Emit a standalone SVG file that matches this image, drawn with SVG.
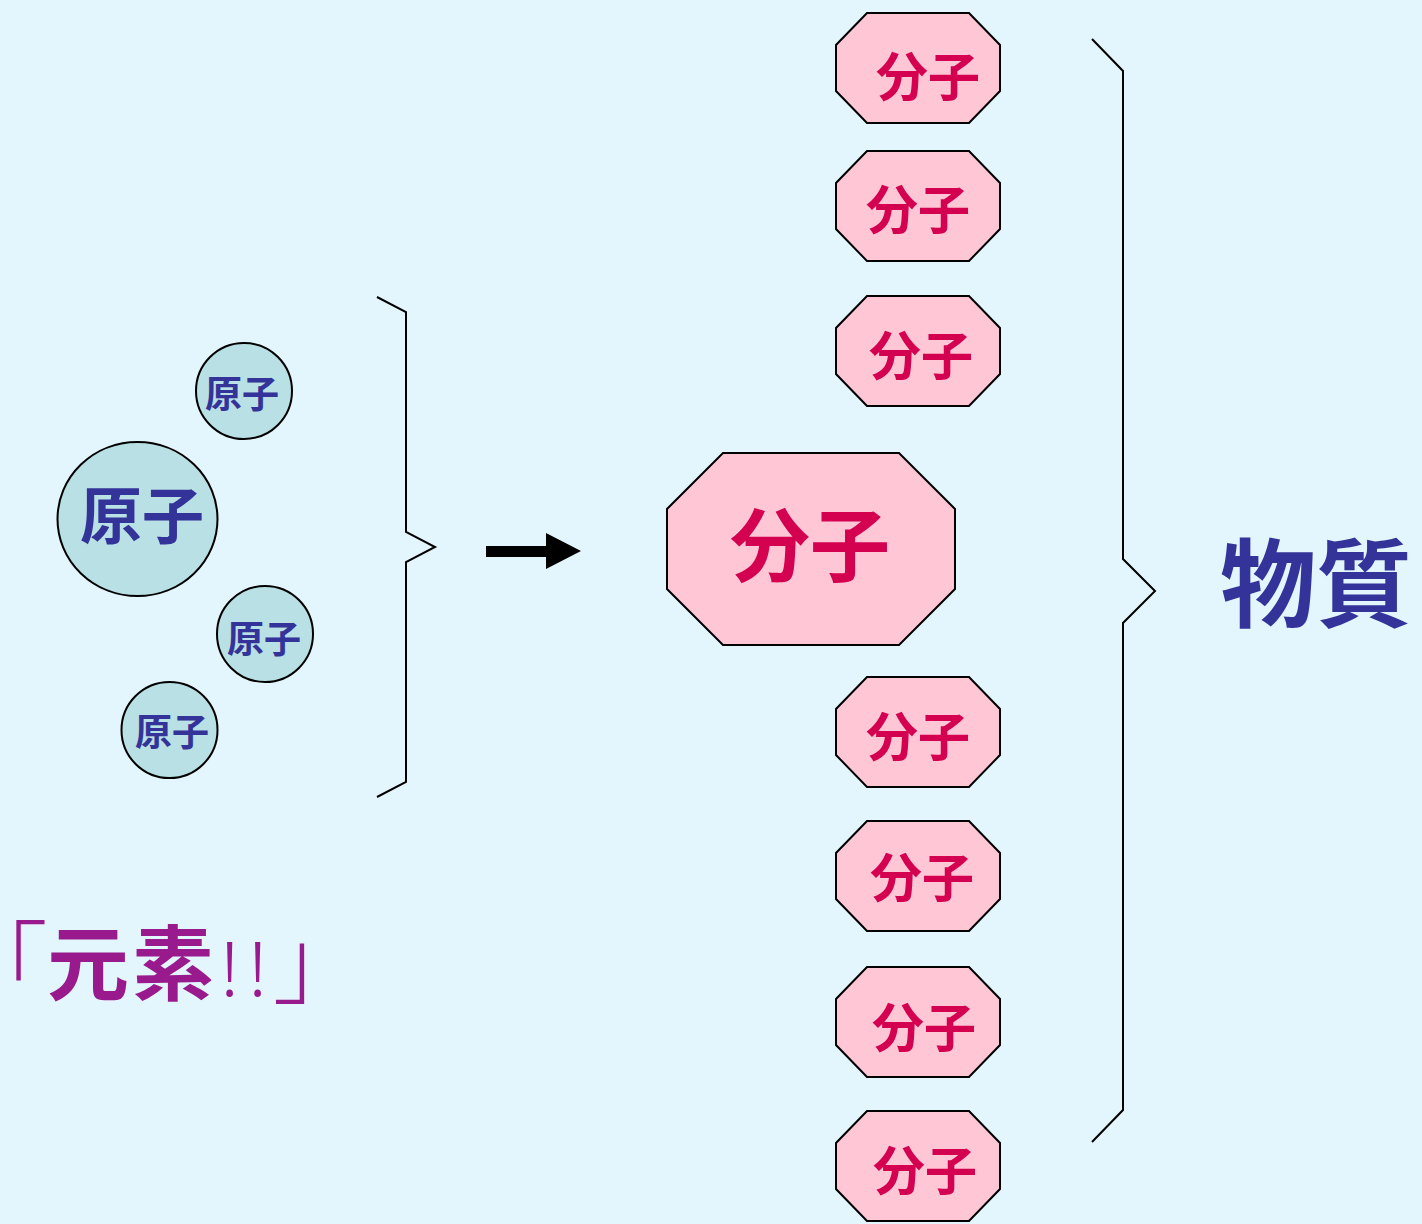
<svg xmlns="http://www.w3.org/2000/svg" width="1422" height="1224" viewBox="0 0 1422 1224">
<defs>
<style>
.bg{fill:#E3F5FD}
.oct{fill:#FFC7D5;stroke:#000;stroke-width:2}
.atom{fill:#B9E0E4;stroke:#000;stroke-width:2}
.brace{fill:none;stroke:#000;stroke-width:2;stroke-linejoin:miter}
.t{font-family:"Noto Sans CJK JP","Noto Sans CJK SC",sans-serif;font-weight:bold;text-anchor:middle}
.mol{fill:#D40050;font-size:52px}
.atx{fill:#333399}
</style>
</defs>
<rect class="bg" x="0" y="0" width="1422" height="1224"/>
<g id="atoms">
<g id="atom1"><circle class="atom" cx="244" cy="391" r="48"/><text class="t atx" x="242" y="408" font-size="37">原子</text></g>
<g id="atom-big"><ellipse class="atom" cx="137.5" cy="519" rx="80" ry="77"/><text class="t atx" x="142" y="539" font-size="62">原子</text></g>
<g id="atom3"><circle class="atom" cx="265" cy="634" r="48"/><text class="t atx" x="264" y="653" font-size="37">原子</text></g>
<g id="atom4"><circle class="atom" cx="169.5" cy="730" r="48"/><text class="t atx" x="172" y="746" font-size="37">原子</text></g>
</g>
<g id="connectors">
<path class="brace" d="M377,297 L406,312 L406,532 L435,547 L406,562 L406,782 L377,797"/>
<polygon id="arrow" points="486,546 546,546 546,533 581,551 546,569 546,557 486,557" fill="#000"/>
<path class="brace" d="M1092,39 L1123,71 L1123,559 L1155,591 L1123,623 L1123,1110 L1092,1142"/>
</g>
<g id="molecules">
<g id="mol1"><polygon class="oct" points="867,13 969,13 1000,45 1000,91 969,123 867,123 836,91 836,45"/><text class="t mol" x="928" y="96">分子</text></g>
<g id="mol2"><polygon class="oct" points="867,151 969,151 1000,183 1000,229 969,261 867,261 836,229 836,183"/><text class="t mol" x="918" y="229">分子</text></g>
<g id="mol3"><polygon class="oct" points="867,296 969,296 1000,328 1000,374 969,406 867,406 836,374 836,328"/><text class="t mol" x="921" y="375">分子</text></g>
<g id="mol-big"><polygon class="oct" points="723,453 899,453 955,509 955,589 899,645 723,645 667,589 667,509"/><text class="t" x="810" y="575" font-size="80" fill="#D40050">分子</text></g>
<g id="mol5"><polygon class="oct" points="867,677 969,677 1000,709 1000,755 969,787 867,787 836,755 836,709"/><text class="t mol" x="918" y="756">分子</text></g>
<g id="mol6"><polygon class="oct" points="867,821 969,821 1000,853 1000,899 969,931 867,931 836,899 836,853"/><text class="t mol" x="922" y="897">分子</text></g>
<g id="mol7"><polygon class="oct" points="867,967 969,967 1000,999 1000,1045 969,1077 867,1077 836,1045 836,999"/><text class="t mol" x="924" y="1047">分子</text></g>
<g id="mol8"><polygon class="oct" points="867,1111 969,1111 1000,1143 1000,1189 969,1221 867,1221 836,1189 836,1143"/><text class="t mol" x="925" y="1190">分子</text></g>
</g>
<g id="substance"><text class="t" x="1316" y="619" font-size="96" fill="#333399">物質</text></g>
<g id="element" fill="#991A8C" font-family="'Noto Sans CJK JP','Noto Sans CJK SC',sans-serif" font-size="82">
<text x="-44" y="998" font-weight="300" font-size="92">「</text>
<text x="88" y="994" font-weight="bold" text-anchor="middle">元</text>
<text x="173" y="994" font-weight="bold" text-anchor="middle">素</text>
<text x="229.5" y="996" font-weight="300" font-family="'Noto Sans',sans-serif" font-size="76" text-anchor="middle">!</text>
<text x="257.5" y="996" font-weight="300" font-family="'Noto Sans',sans-serif" font-size="76" text-anchor="middle">!</text>
<text x="272.5" y="996" font-weight="300" font-size="92">」</text>
</g>
</svg>
